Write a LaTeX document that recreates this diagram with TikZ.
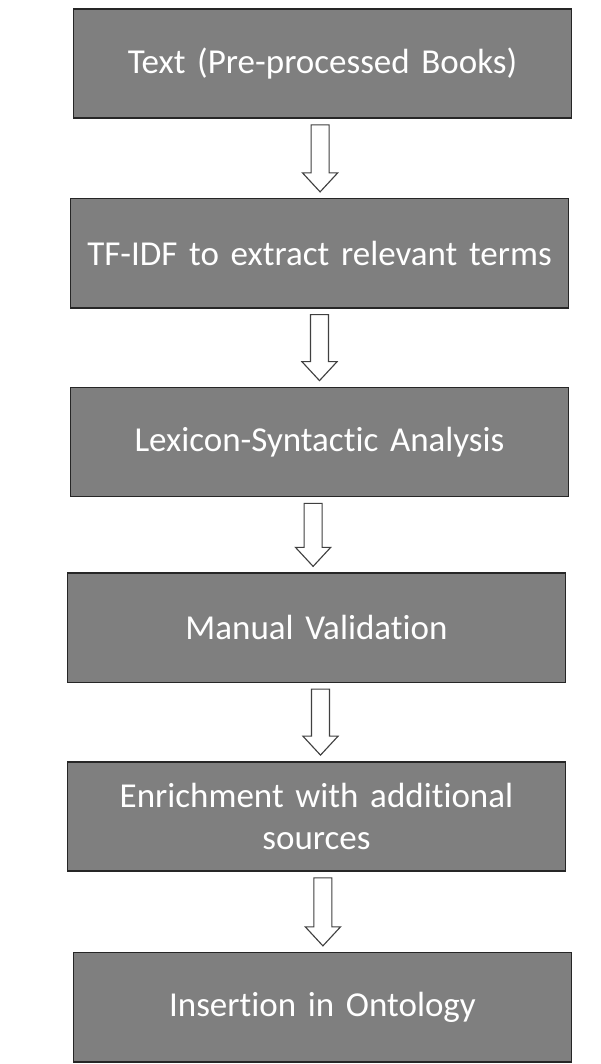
\documentclass[tikz,border=0pt]{standalone}
\usepackage{fontspec}
\setmainfont{Carlito}[Ligatures=NoCommon]
\usepackage{tikz}
\usetikzlibrary{positioning,calc}
\definecolor{boxfill}{HTML}{7F7F7F}
\definecolor{boxline}{HTML}{262626}
\definecolor{arrowline}{HTML}{404040}
\tikzset{
  stage/.style={draw=boxline,fill=boxfill,line width=1.1pt,align=center,
    minimum width=12.45cm,minimum height=2.73cm,inner sep=0pt,text width=12cm,
    text=white,font=\fontsize{24.9}{30}\selectfont},
  hollow/.style={draw=arrowline,fill=white,line width=0.8pt,line join=miter,
    to path={let \p1=(\tikztostart),\p2=(\tikztotarget) in
      (\x1-0.225cm,\y1-0.15cm) -- (\x1-0.225cm,\y2+0.625cm)
      -- (\x1-0.44cm,\y2+0.625cm) -- (\x1,\y2+0.15cm)
      -- (\x1+0.44cm,\y2+0.625cm) -- (\x1+0.225cm,\y2+0.625cm)
      -- (\x1+0.225cm,\y1-0.15cm) -- cycle}}
}

\begin{document}
\begin{tikzpicture}
  \useasboundingbox (0,0) rectangle (15,-26.6);
  \node[stage] (text) at (8.0625,-1.5875) {Text (Pre-processed Books)};
  \node[stage,below=1.975cm of text,xshift=-0.075cm] (tfidf) {TF-IDF to extract relevant terms};
  \node[stage,below=1.95cm of tfidf] (lexsyn) {Lexicon-Syntactic Analysis};
  \node[stage,below=1.875cm of lexsyn,xshift=-0.075cm] (manual) {Manual Validation};
  \node[stage,below=1.95cm of manual] (enrich) {Enrichment with additional\\sources};
  \node[stage,below=2cm of enrich,xshift=0.15cm] (insert) {Insertion in Ontology};
  % block arrows between the stages
  \draw[hollow] ([xshift=-0.06cm]text.south) to (tfidf.north);
  \draw[hollow] (tfidf.south) to (lexsyn.north);
  \draw[hollow] ([xshift=-0.16cm]lexsyn.south) to (manual.north);
  \draw[hollow] ([xshift=0.1cm]manual.south) to (enrich.north);
  \draw[hollow] ([xshift=0.16cm]enrich.south) to (insert.north);
\end{tikzpicture}
\end{document}
